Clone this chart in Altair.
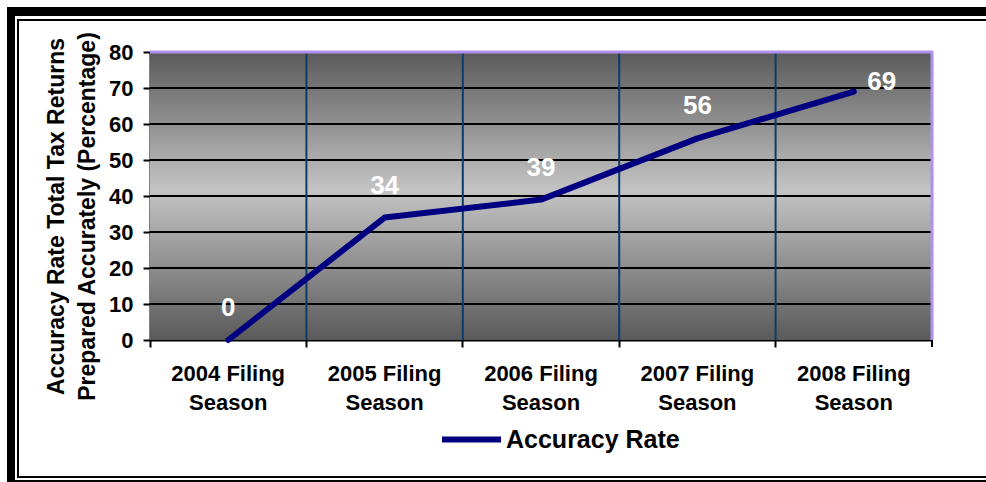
import altair as alt
import pandas as pd

seasons = ["2004 Filing Season", "2005 Filing Season", "2006 Filing Season",
           "2007 Filing Season", "2008 Filing Season"]
accuracy = [0, 34, 39, 56, 69]
series_name = "Accuracy Rate"
y_ticks = [0, 10, 20, 30, 40, 50, 60, 70, 80]
h_grid = [10, 20, 30, 40, 50, 60, 70]

W, H = 782, 288
FONT = "Liberation Sans"

df = pd.DataFrame({"season": seasons, "value": accuracy, "series": series_name})
one = pd.DataFrame({"k": [0]})

xscale = alt.Scale(type="band", domain=seasons, paddingInner=0, paddingOuter=0)
yscale = alt.Scale(domain=[0, 80], nice=False)

x_axis = alt.Axis(title=None, labelAngle=0, labelFont=FONT, labelFontSize=22,
                  labelFontWeight="bold", labelColor="black", labelLineHeight=29,
                  labelPadding=16, tickSize=7, tickColor="black", tickWidth=2,
                  domainColor="black", domainWidth=2, grid=False, bandPosition=0,
                  labelExpr="[slice(datum.label, 0, 11), slice(datum.label, 12)]")
y_axis = alt.Axis(title=["Accuracy Rate Total Tax Returns", "Prepared Accurately (Percentage)"],
                  titleFont=FONT, titleFontSize=23, titleFontWeight="bold",
                  titleColor="black", titleLineHeight=31, titleAngle=270,
                  titleX=-94, titleY=164, titleAlign="center", titleBaseline="middle",
                  values=y_ticks, labelFont=FONT, labelFontSize=22,
                  labelFontWeight="bold", labelColor="black", labelPadding=10,
                  tickSize=7, tickColor="black", tickWidth=2,
                  domainColor="black", domainWidth=2, grid=False)

grad = alt.Gradient(gradient="linear",
                    stops=[alt.GradientStop(offset=0, color="#5a5a5a"),
                           alt.GradientStop(offset=0.48, color="#c4c4c4"),
                           alt.GradientStop(offset=1, color="#5a5a5a")],
                    x1=0, x2=0, y1=0, y2=1)

bg = alt.Chart(one).mark_rect(fill=grad).encode(
    x=alt.value(0), x2=alt.value(W), y=alt.value(0), y2=alt.value(H))

hgrid = alt.Chart(pd.DataFrame({"v": h_grid})).mark_rule(
    color="black", strokeWidth=2).encode(y=alt.Y("v:Q", scale=yscale, axis=y_axis))

vgrid = alt.Chart(pd.DataFrame({"season": seasons[1:]})).mark_rule(
    color="#0b3b6b", strokeWidth=2).encode(
    x=alt.X("season:N", scale=xscale, bandPosition=0, axis=x_axis))

purple_top = alt.Chart(one).mark_rule(color="#b090f0", strokeWidth=3).encode(
    x=alt.value(0), x2=alt.value(W + 1), y=alt.value(0))
purple_right = alt.Chart(one).mark_rule(color="#b090f0", strokeWidth=3).encode(
    x=alt.value(W), y=alt.value(0), y2=alt.value(H))
end_tick = alt.Chart(one).mark_rule(color="black", strokeWidth=2).encode(
    x=alt.value(W), y=alt.value(H), y2=alt.value(H + 7))

line = alt.Chart(df).mark_line(strokeWidth=6, strokeCap="round", strokeJoin="round").encode(
    x=alt.X("season:N", scale=xscale, axis=x_axis, sort=seasons),
    y=alt.Y("value:Q", scale=yscale, axis=y_axis),
    color=alt.Color("series:N", scale=alt.Scale(range=["#000080"]),
                    legend=alt.Legend(title=None, orient="none", legendX=289, legendY=355,
                                      symbolType="stroke", symbolStrokeWidth=6,
                                      symbolSize=3481, labelFont=FONT, labelFontSize=25,
                                      labelFontWeight="bold", labelColor="black",
                                      labelOffset=2, labelLimit=400)))

labels_main = alt.Chart(df).transform_filter(
    alt.datum.value < 60).mark_text(
    color="white", font=FONT, fontSize=26, fontWeight="bold", dy=-32).encode(
    x=alt.X("season:N", scale=xscale, sort=seasons, axis=x_axis),
    y=alt.Y("value:Q", scale=yscale, axis=y_axis),
    text=alt.Text("value:Q"))
labels_last = alt.Chart(df).transform_filter(
    alt.datum.value >= 60).mark_text(
    color="white", font=FONT, fontSize=26, fontWeight="bold", dx=28, dy=-10).encode(
    x=alt.X("season:N", scale=xscale, sort=seasons, axis=x_axis),
    y=alt.Y("value:Q", scale=yscale, axis=y_axis),
    text=alt.Text("value:Q"))

def box(x1, x2, y1, y2):
    return alt.Chart(one).mark_rect(color="black").encode(
        x=alt.value(x1), x2=alt.value(x2), y=alt.value(y1), y2=alt.value(y2))

frame = [
    box(-143, 836, -45, -36),
    box(-143, -135, -45, 440),
    box(-133, 836, -33, -31),
    box(-133, -131, -33, 426),
    box(-133, 836, 424, 426),
    box(-143, 836, 428, 440),
]

chart = alt.layer(bg, hgrid, vgrid, line, labels_main, labels_last,
                  purple_top, purple_right, end_tick, *frame).properties(
    width=W, height=H,
    autosize=alt.AutoSizeParams(type="none"),
    padding={"left": 150, "top": 52, "right": 54, "bottom": 142},
    background="white",
).configure_view(stroke=None)

chart.save("out.html", embed_options={"renderer": "svg", "actions": False})
